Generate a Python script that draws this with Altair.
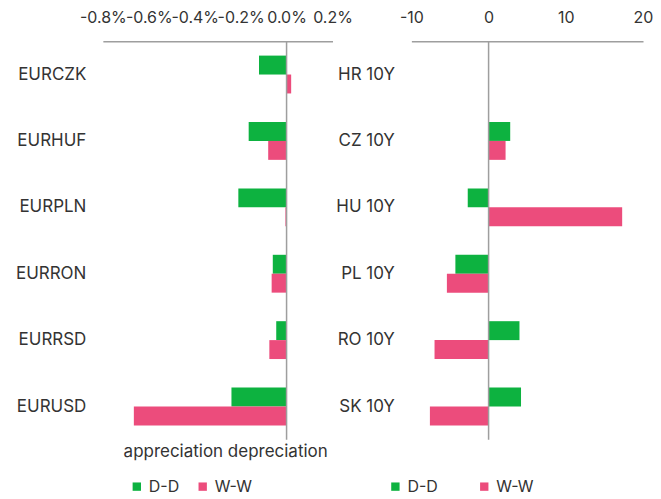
import altair as alt
import pandas as pd

# ---- data ----
fx_pairs = ["EURCZK", "EURHUF", "EURPLN", "EURRON", "EURRSD", "EURUSD"]
fx_dd = [-0.12, -0.165, -0.21, -0.06, -0.045, -0.24]
fx_ww = [0.02, -0.08, -0.005, -0.065, -0.075, -0.665]

bonds = ["HR 10Y", "CZ 10Y", "HU 10Y", "PL 10Y", "RO 10Y", "SK 10Y"]
bd_dd = [None, 2.8, -2.7, -4.3, 4.0, 4.2]
bd_ww = [None, 2.2, 17.3, -5.4, -7.0, -7.6]

series = ["D-D", "W-W"]
colors = ["#0db240", "#ec4c7c"]

fx_ticks = [-0.8, -0.6, -0.4, -0.2, 0.0, 0.2]
bd_ticks = [-10, 0, 10, 20]

FONT = "Inter"
TXT = "#333333"
GRAY = "#9e9e9e"
FS = 16
FS_Y = 17


def to_long(cats, dd, ww):
    rows = []
    for c, a, b in zip(cats, dd, ww):
        rows.append({"cat": c, "series": series[0], "value": a})
        rows.append({"cat": c, "series": series[1], "value": b})
    return pd.DataFrame(rows)


def panel(df, cats, domain, ticks, label_expr, legend_x, col_pad):
    bars = alt.Chart(df).transform_filter("isValid(datum.value)").mark_bar().encode(
        x=alt.X(
            "value:Q",
            scale=alt.Scale(domain=domain, nice=False, zero=False),
            axis=alt.Axis(
                orient="top", values=ticks, labelExpr=label_expr, title=None,
                grid=False, ticks=False, domainColor=GRAY, domainWidth=1.5,
                labelOverlap=False, labelFlush=False, labelFontSize=FS,
                labelPadding=16, labelColor=TXT, labelFont=FONT,
            ),
        ),
        y=alt.Y(
            "cat:N", sort=cats,
            scale=alt.Scale(domain=cats, paddingInner=0.43, paddingOuter=0.215),
            axis=alt.Axis(title=None, domain=False, ticks=False, labelFontSize=FS_Y,
                          labelPadding=17, labelColor=TXT, labelFont=FONT),
        ),
        yOffset=alt.YOffset("series:N", sort=series, scale=alt.Scale(paddingInner=0)),
        color=alt.Color(
            "series:N",
            scale=alt.Scale(domain=series, range=colors),
            legend=alt.Legend(
                title=None, orient="none", legendX=legend_x, legendY=438,
                direction="horizontal", symbolType="square", symbolSize=70,
                symbolStrokeWidth=0, labelFontSize=FS, labelColor=TXT,
                labelFont=FONT, columnPadding=col_pad, labelOffset=4,
            ),
        ),
    )
    rule = alt.Chart(pd.DataFrame({"v": [0]})).mark_rule(
        color=GRAY, strokeWidth=1.5
    ).encode(x="v:Q")
    return bars, rule


fx_df = to_long(fx_pairs, fx_dd, fx_ww)
bd_df = to_long(bonds, bd_dd, bd_ww)

pct_expr = "(datum.value < 0 ? '-' : '') + format(abs(datum.value), '.1f') + '%'"
num_expr = "(datum.value < 0 ? '-' : '') + format(abs(datum.value), 'd')"

fx_bars, fx_rule = panel(fx_df, fx_pairs, [-0.8, 0.2], fx_ticks, pct_expr, 26, 15)
bd_bars, bd_rule = panel(bd_df, bonds, [-10, 20], bd_ticks, num_expr, -24, 38)

note = alt.Chart(pd.DataFrame({"t": ["appreciation depreciation"]})).mark_text(
    fontSize=FS + 1, color=TXT, font=FONT
).encode(text="t:N", x=alt.value(123), y=alt.value(411))

left = alt.layer(fx_bars, fx_rule, note).properties(width=230, height=399)
right = alt.layer(bd_bars, bd_rule).properties(width=232, height=399)

chart = alt.hconcat(left, right, spacing=79, bounds="flush").resolve_scale(
    color="independent", x="independent", y="independent"
).properties(
    padding={"left": 7, "top": 1, "right": 0, "bottom": 3}
).configure(font=FONT, view=alt.ViewConfig(stroke=None))

chart.save("out.html", embed_options={"renderer": "svg", "actions": False})
